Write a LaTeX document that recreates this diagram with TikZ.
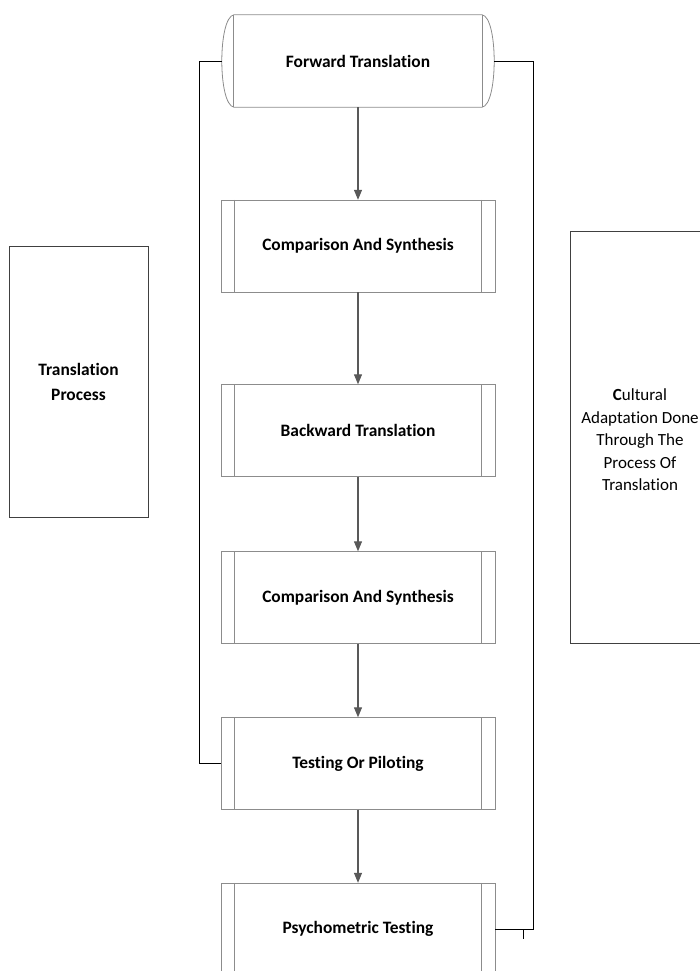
\documentclass[tikz,border=0pt]{standalone}
\usepackage{fontspec}
\setmainfont{Carlito}[Ligatures={NoCommon}]
\usepackage{tikz}
\usetikzlibrary{arrows.meta}
\definecolor{boxgray}{HTML}{8C8C8C}
\definecolor{arrowgray}{HTML}{595959}
\tikzset{>=latex}
\tikzset{
  procbox/.style={draw=boxgray, rectangle, minimum width=274pt, minimum height=92pt,
    inner sep=0pt, font=\fontsize{17.4}{21}\selectfont\bfseries},
  termbox/.style={rectangle, minimum width=248pt, minimum height=92pt,
    inner sep=0pt, font=\fontsize{17.4}{21}\selectfont\bfseries},
  sidebox/.style={draw=black!75, rectangle, inner sep=0pt},
  flow/.style={-{Triangle[width=8pt,length=10pt]}, arrowgray, line width=1.1pt},
  link/.style={black, line width=0.9pt}
}

\begin{document}
\begin{tikzpicture}[x=1pt,y=-1pt]
  \clip (0,0) rectangle (700,971);

  % main column
  \node[termbox] (ft) at (358,61) {Forward Translation};
  \node[procbox] (cs1) at (358,246) {Comparison And Synthesis};
  \node[procbox] (bt) at (358,430.5) {Backward Translation};
  \node[procbox] (cs2) at (358,597.5) {Comparison And Synthesis};
  \node[procbox] (tp) at (358,763.5) {Testing Or Piloting};
  \node[procbox] (pt) at (358,929) {Psychometric Testing};

  % terminal outline
  \draw[boxgray, line width=0.8pt] (ft.north west) -- (ft.north east)
    .. controls ([xshift=16pt,yshift=-3pt]ft.north east) and ([xshift=16pt,yshift=3pt]ft.south east) .. (ft.south east)
    -- (ft.south west)
    .. controls ([xshift=-16pt,yshift=3pt]ft.south west) and ([xshift=-16pt,yshift=-3pt]ft.north west) .. (ft.north west);
  \draw[boxgray, line width=0.8pt] (ft.north west) -- (ft.south west);
  \draw[boxgray, line width=0.8pt] (ft.north east) -- (ft.south east);

  % inner bars of the process boxes
  \foreach \b in {cs1,bt,cs2,tp,pt}{
    \draw[boxgray, line width=0.8pt] ([xshift=14pt]\b.north west) -- ([xshift=14pt]\b.south west);
    \draw[boxgray, line width=0.8pt] ([xshift=-14pt]\b.north east) -- ([xshift=-14pt]\b.south east);
  }

  % side boxes
  \node[sidebox, minimum width=139pt, minimum height=271pt] (tpr) at (78.5,381.5) {};
  \node[font=\fontsize{17.4}{25}\selectfont\bfseries, align=center] (tprt) at (tpr.center) {Translation\\Process};
  \node[sidebox, minimum width=160pt, minimum height=412pt] (cad) at (650.5,437) {};
  \node[font=\fontsize{17}{22.5}\selectfont, align=center] (cadt) at (640,440)
    {\textbf{C}ultural\\Adaptation Done\\Through The\\Process Of\\Translation};

  % arrows
  \draw[flow] (ft.south) -- (cs1.north);
  \draw[flow] (cs1.south) -- (bt.north);
  \draw[flow] (bt.south) -- (cs2.north);
  \draw[flow] (cs2.south) -- (tp.north);
  \draw[flow] (tp.south) -- (pt.north);

  % feedback lines
  \coordinate (ftl) at ([xshift=-12pt]ft.west);
  \coordinate (ftr) at ([xshift=12pt]ft.east);
  \draw[link] (ftl) -- ++(-22,0) |- (tp.west);
  \draw[link] (ftr) -- ++(39,0) |- (pt.east);
  \coordinate (tick) at (523,929);
  \draw[link] (tick) -- ++(0,10);
\end{tikzpicture}
\end{document}
